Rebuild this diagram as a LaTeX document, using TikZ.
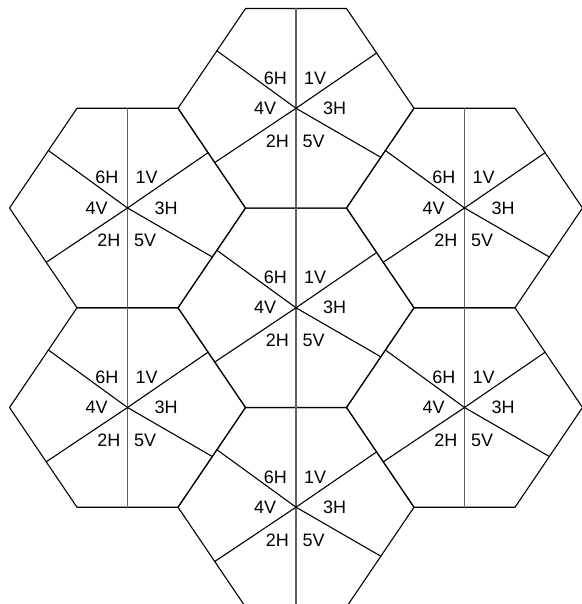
\documentclass[tikz,border=0pt]{standalone}
\usepackage{fontspec}
\setmainfont{Liberation Sans}

\begin{document}
\begin{tikzpicture}
    [x=1pt, y=-1pt,
    line cap=round,
    line join=round,
    kante/.style={line width=1.1pt, black},
    achse/.style={line width=1.9pt, black!62},
    feld/.style={inner sep=0pt, font=\fontsize{18}{20}\selectfont}]

    \useasboundingbox (0,0) rectangle (581,604);

    \foreach \n/\cx/\cy in {o/296/108.3, lo/127.5/208, ro/464.5/208, m/296/307.8,
                            lu/127.5/407.5, ru/464.5/407.5, u/296/507.2} {
        \begin{scope}[shift={(\cx,\cy)}]
            \coordinate (\n) at (0,0);
            \draw[kante] (-118,0) -- (-50.5,-99.75) -- (50.5,-99.75) -- (118,0)
                -- (50.5,99.75) -- (-50.5,99.75) -- cycle;
            \draw[achse] (0,-99.75) -- (0,99.75);

            % Diagonalen
            \draw[kante] (\n) -- (-79.1,-57.5);
            \draw[kante] (\n) -- (80.6,-55.3);
            \draw[kante] (\n) -- (-81.3,54.3);
            \draw[kante] (\n) -- (84.8,49);

            \node[feld, anchor=east] (\n-6H) at (-9,-30.3)  {6H};
            \node[feld, anchor=west] (\n-1V) at (8,-30.3)   {1V};
            \node[feld, anchor=east] (\n-4V) at (-19.6,0)   {4V};
            \node[feld, anchor=west] (\n-3H) at (27,0)      {3H};
            \node[feld, anchor=east] (\n-2H) at (-7,32.7)   {2H};
            \node[feld, anchor=west] (\n-5V) at (6.4,32.7)  {5V};
        \end{scope}
    }
\end{tikzpicture}
\end{document}
